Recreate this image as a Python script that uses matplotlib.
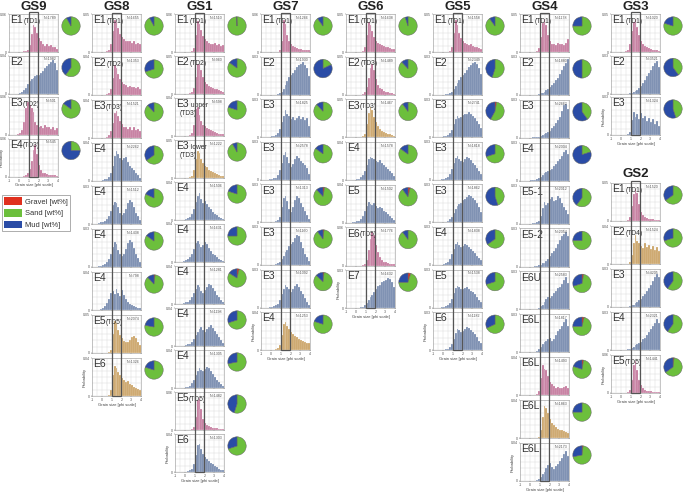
import numpy as np
import matplotlib
matplotlib.use('Agg')
import matplotlib.pyplot as plt
from matplotlib.patches import Rectangle, Patch

plt.rcParams['font.family'] = ['Liberation Sans', 'DejaVu Sans']

W, H = 685, 492
fig = plt.figure(figsize=(W / 100, H / 100), dpi=100)

COLORS = {'P': '#c2759a', 'B': '#7186ab', 'T': '#c9a062'}
GRAVEL, SAND, MUD = '#e0301e', '#6cbf3c', '#2a4ca6'

# ---------------- data (histogram heights in % of panel y-max, bins -1..4 phi) ----------
GS9_names = [('E1', '(TD1)'), ('E2', ''), ('E3', '(TD2)'), ('E4', '(TD3)')]
GS9_types = ['P', 'B', 'P', 'P']
GS9_N = [1789, 1982, 501, 545]
GS9_ymax = [0.06, 0.04, 0.06, 0.06]
GS9_hist = [
    [0,0,0,0,0, 0,1,2,3,6, 18,48,72,66,50, 36,28,22,17,20, 15,18,13,12,9],
    [0,0,0,0,0, 2,4,8,15,25, 32,38,42,45,48, 50,55,60,66,72, 78,84,88,80,62],
    [0,0,0,0,2, 5,12,35,70,86, 80,72,60,35,26, 22,24,18,26,20, 22,16,20,14,18],
    [0,0,0,0,0, 0,0,2,5,10, 20,42,70,82,60, 30,16,10,8,6, 5,4,3,3,2],
]
GS9_pies = [(0, 92, 8), (0, 60, 40), (0, 85, 15), (0, 25, 75)]

GS8_names = [('E1', '(TD1)'), ('E2', '(TD2)'), ('E3', '(TD3)'), ('E4', ''), ('E4', ''),
             ('E4', ''), ('E4', ''), ('E5', '(TD5)'), ('E6', '')]
GS8_types = ['P', 'P', 'P', 'B', 'B', 'B', 'B', 'T', 'T']
GS8_N = [1655, 1353, 1521, 2262, 1512, 1438, 798, 2074, 1326]
GS8_ymax = [0.05, 0.04, 0.04, 0.04, 0.03, 0.03, 0.04, 0.05, 0.04]
GS8_hist = [
    [0,0,0,0,0, 0,0,2,5,20, 55,85,80,62,48, 40,35,30,28,30, 25,28,22,24,20],
    [0,0,0,0,0, 0,1,3,6,15, 45,78,70,55,42, 35,30,26,22,25, 20,22,18,20,16],
    [0,0,0,0,0, 0,1,3,8,18, 40,65,70,58,45, 38,30,28,25,30, 22,28,20,24,18],
    [0,0,0,0,1, 2,4,6,10,20, 40,65,80,72,60, 55,60,62,50,40, 35,30,22,15,8],
    [0,0,1,2,4, 6,8,12,20,35, 50,58,55,45,30, 25,28,40,55,62, 58,45,30,20,10],
    [0,0,1,2,3, 5,8,12,20,35, 52,65,60,45,35, 30,35,48,62,70, 65,50,35,25,12],
    [0,0,0,1,2, 5,10,18,30,45, 50,42,55,45,38, 52,40,30,22,15, 12,10,8,6,4],
    [0,0,0,0,0, 0,0,1,2,8, 50,85,78,60,48, 40,32,28,30,35, 42,45,40,30,20],
    [0,0,0,0,0, 0,0,1,3,15, 55,80,75,62,55, 48,42,38,40,32, 30,25,22,18,15],
]
GS8_pies = [(0, 92, 8), (0, 70, 30), (0, 88, 12), (0, 65, 35), (0, 82, 18), (0, 85, 15),
            (2, 86, 12), (0, 78, 22), (0, 80, 20)]

GS1_names = [('E1', '(TD1)'), ('E2', '(TD2)'), ('E3', ' upper\n(TD3)'), ('E3', ' lower\n(TD3)'),
             ('E4', ''), ('E4', ''), ('E4', ''), ('E4', ''), ('E4', ''), ('E5', '(TD5)'), ('E6', '')]
GS1_types = ['P', 'P', 'P', 'T', 'B', 'B', 'B', 'B', 'B', 'P', 'B']
GS1_N = [1510, 960, 598, 1222, 1506, 1631, 1281, 1198, 1305, 1482, 1303]
GS1_ymax = [0.06, 0.05, 0.04, 0.05, 0.04, 0.04, 0.04, 0.04, 0.04, 0.06, 0.04]
GS1_hist = [
    [0,0,0,0,0, 0,0,1,3,10, 45,82,75,58,42, 35,28,25,22,20, 24,18,20,16,18],
    [0,0,0,0,0, 0,0,2,5,15, 45,78,80,62,45, 32,26,22,18,15, 14,12,10,8,6],
    [0,0,0,0,0, 0,0,2,8,30, 70,75,55,40,30, 25,20,18,15,12, 10,8,6,5,4],
    [0,0,0,0,0, 0,0,2,6,20, 50,72,65,50,40, 32,28,22,18,15, 12,10,8,6,4],
    [0,0,0,0,1, 2,4,8,15,30, 48,62,70,55,45, 50,42,35,28,20, 15,12,8,5,3],
    [0,0,0,1,2, 4,8,12,20,35, 50,55,48,40,45, 52,48,38,30,22, 18,12,8,5,3],
    [0,0,0,1,2, 4,6,10,18,28, 40,50,45,35,30, 38,45,52,50,42, 35,25,18,10,5],
    [0,0,0,0,1, 2,4,6,10,18, 28,38,45,50,42, 38,45,50,55,48, 40,32,25,15,8],
    [0,0,0,0,1, 2,3,6,12,22, 35,45,52,48,45, 50,55,52,45,38, 30,22,15,10,5],
    [0,0,0,0,0, 0,0,0,2,8, 35,80,85,55,30, 18,12,10,8,6, 5,4,3,2,2],
    [0,0,0,0,0, 1,2,4,8,20, 45,70,75,60,48, 40,35,30,25,20, 15,12,8,6,4],
]
GS1_pies = [(0, 99.5, 0.5), (0, 85, 15), (0, 80, 20), (0, 92, 8), (0, 80, 20), (0, 75, 25),
            (4, 80, 16), (0, 70, 30), (0, 72, 28), (0, 55, 45), (0, 70, 30)]

GS7_names = [('E1', '(TD1)'), ('E2', ''), ('E3', ''), ('E3', ''), ('E3', ''), ('E3', ''),
             ('E3', ''), ('E4', '')]
GS7_types = ['P', 'B', 'B', 'B', 'B', 'B', 'B', 'T']
GS7_N = [1266, 1930, 1825, 2578, 1313, 1160, 1092, 1253]
GS7_ymax = [0.06, 0.03, 0.03, 0.03, 0.03, 0.03, 0.03, 0.04]
GS7_hist = [
    [0,0,0,0,0, 0,0,0,1,4, 30,85,75,45,30, 20,15,12,10,8, 7,6,5,5,4],
    [0,0,0,0,0, 0,0,0,1,3, 8,15,25,35,45, 52,58,65,72,78, 80,85,78,70,50],
    [0,0,0,0,1, 2,3,5,10,22, 40,55,72,62,55, 48,52,45,50,55, 48,52,45,50,30],
    [0,0,0,0,1, 2,4,6,12,25, 45,65,72,60,45, 35,42,55,62,58, 50,45,40,30,15],
    [0,0,0,0,0, 1,2,3,6,15, 40,65,70,55,35, 28,40,58,70,65, 50,40,30,20,10],
    [0,0,0,0,0, 0,1,2,4,8, 15,25,35,40,50, 55,60,72,80,75, 60,45,30,20,10],
    [0,0,0,0,1, 2,4,6,10,20, 35,50,60,55,48, 42,50,58,62,55, 45,35,25,15,8],
    [0,0,0,0,0, 0,1,2,5,15, 40,70,75,65,55, 48,42,38,35,30, 28,25,22,20,18],
]
GS7_pies = [(0, 90, 10), (0, 18, 82), (0, 88, 12), (0, 85, 15), (3, 85, 12), (2, 88, 10),
            (2, 85, 13), (0, 80, 20)]

GS6_names = [('E1', '(TD1)'), ('E2', '(TD3)'), ('E3', '(TD3)'), ('E4', ''), ('E5', ''),
             ('E6', '(TD5)'), ('E7', '')]
GS6_types = ['P', 'P', 'T', 'B', 'B', 'P', 'B']
GS6_N = [1638, 1489, 1467, 1578, 1502, 1776, 1632]
GS6_ymax = [0.05, 0.05, 0.05, 0.04, 0.04, 0.06, 0.03]
GS6_hist = [
    [0,0,0,0,0, 0,0,1,3,12, 45,80,72,55,40, 30,25,20,18,15, 14,12,10,9,8],
    [0,0,0,0,0, 0,0,0,2,6, 20,45,70,80,65, 40,25,18,14,10, 8,6,5,4,3],
    [0,0,0,0,0, 0,0,1,3,10, 35,65,80,72,55, 40,30,22,18,15, 12,10,8,6,5],
    [0,0,0,0,1, 2,4,8,14,25, 40,55,62,58,55, 50,48,52,45,40, 35,30,25,18,12],
    [0,0,0,1,2, 4,6,10,18,30, 45,55,50,48,52, 45,40,42,38,32, 28,22,18,12,8],
    [0,0,0,0,0, 0,0,0,1,4, 15,40,70,88,80, 55,35,22,15,10, 8,6,5,4,3],
    [0,0,0,0,0, 0,1,2,4,8, 15,22,30,35,42, 50,58,62,70,72, 75,80,78,70,55],
]
GS6_pies = [(0, 95, 5), (0, 88, 12), (0, 90, 10), (0, 85, 15), (4, 86, 10), (0, 90, 10), (5, 70, 25)]

GS5_names = [('E1', '(TD1)'), ('E2', ''), ('E3', ''), ('E3', ''), ('E3', ''), ('E4', ''),
             ('E5', ''), ('E6', '')]
GS5_types = ['P', 'B', 'B', 'B', 'B', 'B', 'B', 'B']
GS5_N = [1558, 2349, 2741, 1818, 1862, 1838, 1538, 1182]
GS5_ymax = [0.05, 0.03, 0.03, 0.03, 0.03, 0.03, 0.03, 0.03]
GS5_hist = [
    [0,0,0,0,0, 0,0,1,3,12, 50,85,70,50,38, 30,25,22,18,20, 16,14,12,10,9],
    [0,0,0,0,0, 0,1,2,4,8, 15,22,30,38,45, 52,58,65,72,78, 82,85,80,70,55],
    [0,0,0,0,1, 2,3,6,10,20, 35,48,55,50,52, 58,62,60,65,62, 55,50,42,35,25],
    [0,0,0,0,1, 2,4,8,15,28, 45,58,62,55,50, 48,55,60,58,52, 45,38,30,22,15],
    [0,0,0,0,0, 1,2,4,8,15, 25,35,42,48,52, 58,62,68,72,70, 65,58,50,40,28],
    [0,0,0,0,1, 2,4,8,15,28, 42,55,60,52,48, 50,55,52,48,42, 38,32,25,18,12],
    [0,0,0,0,1, 2,3,6,12,22, 38,52,58,55,50, 48,52,55,50,45, 40,35,28,20,14],
    [0,0,0,0,0, 1,2,4,8,16, 30,45,55,52,48, 50,55,60,58,52, 48,42,35,25,18],
]
GS5_pies = [(0, 90, 10), (0, 55, 45), (3, 55, 42), (0, 70, 30), (0, 45, 55), (0, 65, 35),
            (0, 70, 30), (0, 68, 32)]

GS4_names = [('E1', '(TD1)'), ('E2', ''), ('E3', ''), ('E4', ''), ('E5-1', ''), ('E5-2', ''),
             ('E6U', ''), ('E6L', ''), ('E6L', ''), ('E6L', ''), ('E6L', '')]
GS4_types = ['P', 'B', 'B', 'B', 'B', 'B', 'B', 'B', 'P', 'T', 'B']
GS4_N = [1178, 1880, 2662, 2004, 2012, 2054, 2583, 1817, 1493, 1863, 2173]
GS4_ymax = [0.05, 0.03, 0.03, 0.03, 0.03, 0.03, 0.03, 0.03, 0.04, 0.04, 0.04]
GS4_hist = [
    [0,0,0,0,0, 0,0,1,3,10, 40,75,88,70,45, 30,20,22,18,25, 20,22,18,25,35],
    [0,0,0,0,0, 0,0,0,1,2, 4,6,8,12,16, 20,25,30,38,45, 55,65,75,85,95],
    [0,0,0,0,0, 0,1,1,2,3, 5,8,10,12,15, 18,25,30,38,48, 55,70,85,90,75],
    [0,0,0,0,0, 1,2,3,4,6, 10,15,20,22,25, 28,32,38,45,52, 58,65,75,80,70],
    [0,0,0,0,0, 0,1,2,4,8, 20,40,58,50,55, 65,70,60,62,72, 68,55,45,35,25],
    [0,0,0,0,0, 0,0,1,2,3, 5,8,10,15,20, 28,35,42,50,60, 70,80,85,90,80],
    [0,0,0,0,0, 0,0,1,2,4, 8,12,20,28,32, 30,35,42,48,55, 58,68,78,85,70],
    [0,0,0,0,0, 0,1,2,4,8, 15,22,28,30,35, 38,30,35,45,55, 62,70,80,88,70],
    [0,0,0,0,0, 0,0,1,3,10, 45,80,70,65,50, 35,30,25,20,22, 18,20,22,25,20],
    [0,0,0,0,0, 0,0,0,1,3, 20,55,85,80,65, 50,40,35,30,25, 22,20,18,16,14],
    [0,0,0,0,0, 0,0,1,2,5, 10,18,25,35,42, 48,38,32,40,45, 52,60,70,80,65],
]
GS4_pies = [(0, 75, 25), (0, 50, 50), (0, 40, 60), (0, 20, 80), (0, 60, 40), (0, 75, 25),
            (3, 67, 30), (4, 71, 25), (3, 77, 20), (0, 75, 25), (2, 70, 28)]

GS3_names = [('E1', '(TD1)'), ('E2', ''), ('E3', '')]
GS3_types = ['P', 'B', 'B']
GS3_N = [1020, 3521, 1324]
GS3_ymax = [0.05, 0.03, 0.03]
GS3_hist = [
    [0,0,0,0,0, 0,0,2,5,20, 55,80,88,65,45, 30,22,15,12,10, 8,6,5,4,3],
    [0,0,0,0,0, 0,0,0,0,1, 2,4,6,10,15, 20,28,35,45,55, 62,72,80,85,70],
    [0,0,0,0,0, 0,0,0,2,8, 40,60,48,55,42, 58,45,50,38,45, 35,42,30,38,25],
]
GS3_pies = [(0, 80, 20), (0, 40, 60), (0, 45, 55)]

GS2_names = [('E1', '(TD1)'), ('E2', '(TD4)'), ('E3', ''), ('E4', ''), ('E5', '(TD5)')]
GS2_types = ['P', 'T', 'B', 'B', 'P']
GS2_N = [1520, 1524, 4205, 2321, 1441]
GS2_ymax = [0.05, 0.04, 0.03, 0.03, 0.06]
GS2_hist = [
    [0,0,0,0,0, 0,0,0,2,10, 40,70,85,75,45, 25,15,10,8,6, 5,4,3,2,2],
    [0,0,0,0,0, 0,0,0,1,5, 25,55,75,60,55, 48,42,55,45,50, 40,48,38,45,35],
    [0,0,0,0,0, 0,0,0,1,2, 4,6,10,14,18, 22,28,35,42,50, 58,68,78,88,80],
    [0,0,0,0,0, 0,0,1,2,3, 6,8,12,15,18, 22,28,32,40,48, 55,62,72,82,70],
    [0,0,0,0,0, 0,0,0,2,8, 35,75,85,60,35, 20,12,8,6,5, 4,3,3,2,2],
]
GS2_pies = [(0, 65, 35), (0, 70, 30), (0, 60, 40), (0, 60, 40), (2, 63, 35)]

X_TICKS = [-1, 0, 1, 2, 3, 4]
LEGEND_LABELS = ['Gravel [wt%]', 'Sand [wt%]', 'Mud [wt%]']


def px_axes(x, y, w, h, **kw):
    return fig.add_axes([x / W, 1 - (y + h) / H, w / W, h / H], **kw)


def draw_column(title, L, top0, title_y, names, types, Ns, ymaxs, hists, pies,
                pitch=43.0, ph=38.0, pw=49.0):
    fig.text((L + pw / 2) / W, 1 - title_y / H, title, ha='center', va='center',
             fontsize=9.5, fontweight='bold', color='#222222')
    n = len(names)
    for i in range(n):
        top = top0 + i * pitch
        ax = px_axes(L, top, pw, ph)
        vals = np.asarray(hists[i], dtype=float)
        edges = np.linspace(-1, 4, len(vals) + 1)
        ax.bar(edges[:-1], vals / 100.0 * ymaxs[i], width=np.diff(edges), align='edge',
               color=COLORS[types[i]], edgecolor='#ffffff', linewidth=0.15, zorder=2)
        ax.set_xlim(-1, 4)
        ax.set_ylim(0, ymaxs[i])
        ax.set_xticks(X_TICKS)
        ax.set_xticks(np.arange(-1, 4.01, 0.5), minor=True)
        ax.set_yticks([0, ymaxs[i]])
        ax.set_yticks(np.linspace(0, ymaxs[i], 7), minor=True)
        ax.grid(True, which='both', color='#dddddd', linewidth=0.35, zorder=0)
        ax.set_axisbelow(True)
        ax.tick_params(which='minor', length=0)
        ax.tick_params(which='major', length=1, width=0.3, pad=0.6, labelsize=2.6,
                       colors='#555555')
        ax.set_yticklabels(['0', f'{ymaxs[i]:.2f}'])
        for s in ax.spines.values():
            s.set_linewidth(0.4)
            s.set_color('#999999')
        if i == n - 1:
            ax.set_xticklabels([str(t) for t in X_TICKS])
            ax.set_xlabel('Grain size [phi scale]', fontsize=3, labelpad=0.5, color='#444444')
            ax.set_ylabel('Probability', fontsize=3, color='#444444')
            ax.yaxis.set_label_coords(-0.1, 0.5)
        else:
            ax.set_xticklabels([])
        main, sub = names[i]
        t = ax.text(0.03, 0.97, main, transform=ax.transAxes, ha='left', va='top',
                    fontsize=7.5, color='#333333', zorder=5)
        if sub:
            lines = sub.split('\n')
            ax.annotate(lines[0], xy=(1, 0.05), xycoords=t, ha='left', va='bottom',
                        fontsize=4.8, color='#333333', zorder=5)
            if len(lines) > 1:
                ax.annotate(lines[1], xy=(0.25, 0), xycoords=t, xytext=(0, -0.5),
                            textcoords='offset points', ha='left', va='top',
                            fontsize=4.8, color='#333333', zorder=5)
        ax.text(0.97, 0.95, f'N={Ns[i]}', transform=ax.transAxes, ha='right', va='top',
                fontsize=2.6, color='#555555', zorder=5)
        # pie
        r = 11.5
        pax = px_axes(L + pw + 13 - r, top + 12 - r, 2 * r, 2 * r)
        g, s_, m = pies[i]
        pax.pie([g, s_, m], colors=[GRAVEL, SAND, MUD], startangle=90, counterclock=False,
                wedgeprops=dict(edgecolor='#666666', linewidth=0.35))
        pax.set_aspect('equal')
    # phi 1-2 frame running through the column
    x1 = L + pw * 2 / 5
    x2 = L + pw * 3 / 5
    y_top = top0 - 1.5
    y_bot = top0 + (n - 1) * pitch + ph
    rect = Rectangle((x1 / W, 1 - y_bot / H), (x2 - x1) / W, (y_bot - y_top) / H,
                     transform=fig.transFigure, fill=False, edgecolor='#555555',
                     linewidth=0.9, zorder=10)
    fig.patches.append(rect)


draw_column('GS9', 9, 14, 7, GS9_names, GS9_types, GS9_N, GS9_ymax, GS9_hist, GS9_pies, pitch=41.5)
draw_column('GS8', 92, 14, 7, GS8_names, GS8_types, GS8_N, GS8_ymax, GS8_hist, GS8_pies, pitch=43.0)
draw_column('GS1', 175, 14, 7, GS1_names, GS1_types, GS1_N, GS1_ymax, GS1_hist, GS1_pies, pitch=42.0)
draw_column('GS7', 261, 14, 7, GS7_names, GS7_types, GS7_N, GS7_ymax, GS7_hist, GS7_pies, pitch=42.6)
draw_column('GS6', 346, 14, 7, GS6_names, GS6_types, GS6_N, GS6_ymax, GS6_hist, GS6_pies, pitch=42.7)
draw_column('GS5', 433, 14, 7, GS5_names, GS5_types, GS5_N, GS5_ymax, GS5_hist, GS5_pies, pitch=42.6)
draw_column('GS4', 520, 14, 7, GS4_names, GS4_types, GS4_N, GS4_ymax, GS4_hist, GS4_pies, pitch=42.9)
draw_column('GS3', 611, 14, 7, GS3_names, GS3_types, GS3_N, GS3_ymax, GS3_hist, GS3_pies, pitch=41.5)
draw_column('GS2', 611, 183, 174, GS2_names, GS2_types, GS2_N, GS2_ymax, GS2_hist, GS2_pies, pitch=43.0)

handles = [Patch(facecolor=c, edgecolor='none') for c in (GRAVEL, SAND, MUD)]
leg = fig.legend(handles, LEGEND_LABELS, loc='upper left', bbox_to_anchor=(2 / W, 1 - 195 / H),
                 fontsize=5.4, frameon=True, fancybox=False, edgecolor='#888888',
                 handlelength=2.3, handleheight=1.2, labelspacing=0.45, borderpad=0.3,
                 handletextpad=0.5, borderaxespad=0)
leg.get_frame().set_linewidth(0.6)
for txt in leg.get_texts():
    txt.set_color('#333333')

fig.savefig('out.png', dpi=100)
